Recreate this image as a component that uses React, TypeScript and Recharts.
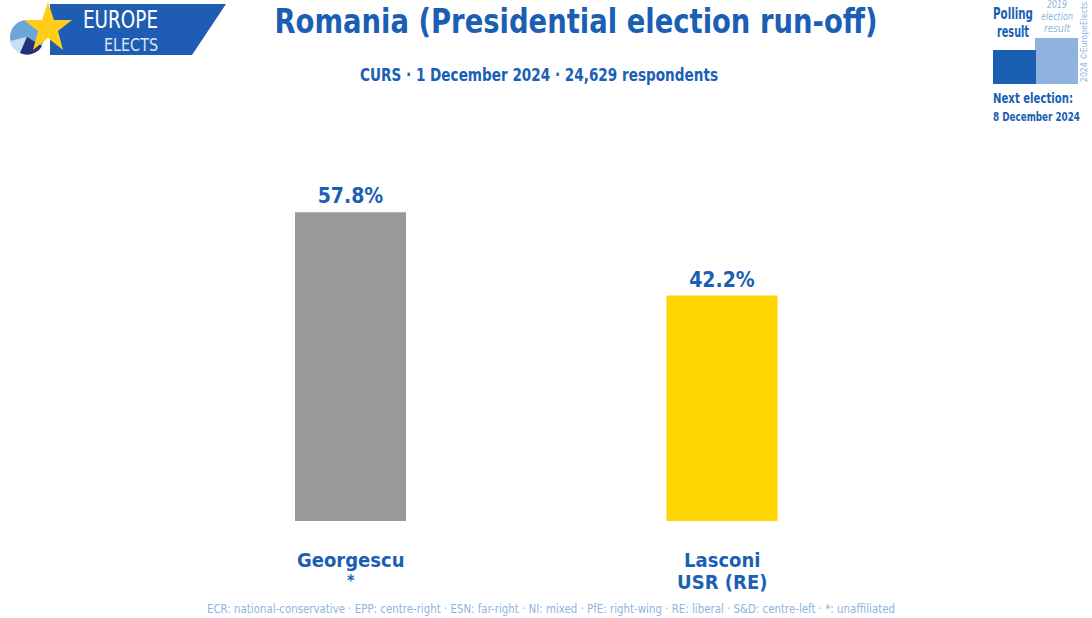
import { Bar, BarChart, LabelList, XAxis, YAxis } from "recharts";

const candidates = ["Georgescu", "Lasconi"];
const parties = ["*", "USR (RE)"];
const shares = [57.8, 42.2];
const barColors = ["#999999", "#FFD600"];

const BLUE = "#1a5fb4";
const LIGHT = "#8fb3e0";
const FONT = "'DejaVu Sans Condensed', 'Liberation Sans Narrow', sans-serif";

const data = candidates.map((name, i) => ({
  name,
  party: parties[i],
  value: shares[i],
  fill: barColors[i],
}));

function CandidateTick(props: any) {
  const { x, y, payload } = props;
  const row = data.find((d) => d.name === payload.value);
  const star = row?.party === "*";
  return (
    <g transform={`translate(${x},${y})`}>
      <text textAnchor="middle" y={38} fill={BLUE} fontFamily={FONT} fontWeight="bold" fontSize={20}>
        {payload.value}
      </text>
      <text textAnchor="middle" y={star ? 57 : 60} fill={BLUE} fontFamily={FONT} fontWeight="bold" fontSize={star ? 16 : 20}>
        {row?.party}
      </text>
    </g>
  );
}

function ValueLabel(props: any) {
  const { x, y, width, value } = props;
  return (
    <text x={x + width / 2} y={y - 9} textAnchor="middle" fill={BLUE} fontFamily={FONT} fontWeight="bold" fontSize={21}>
      {`${Number(value).toFixed(1)}%`}
    </text>
  );
}

function Overlay() {
  return (
    <svg width={1092} height={618} style={{ position: "absolute", left: 0, top: 0, pointerEvents: "none" }}>
      {/* logo */}
      <polygon points="50,4 226,4 192,55 50,55" fill="#1e5db3" />
      <circle cx={27} cy={37} r={17} fill="#6aa6d8" />
      <path d="M27,37 L10,41 A17,17 0 0 0 20,53 Z" fill="#c9def2" />
      <path d="M27,37 L20,53 A17,17 0 0 0 42,46 Z" fill="#27307a" />
      <polygon
        points="48,2 54,20 72,20 58,31 63,50 48,38 33,50 38,31 24,20 42,20"
        fill="#ffcc1a"
      />
      <text x={83} y={28} fill="#fff" fontFamily={FONT} fontSize={25} textLength={75} lengthAdjust="spacingAndGlyphs">EUROPE</text>
      <text x={104} y={51} fill="#d8e6f7" fontFamily={FONT} fontSize={18} textLength={54} lengthAdjust="spacingAndGlyphs">ELECTS</text>

      {/* title */}
      <text x={576} y={33} textAnchor="middle" fill={BLUE} fontFamily={FONT} fontWeight="bold" fontSize={34} textLength={603} lengthAdjust="spacingAndGlyphs">
        Romania (Presidential election run-off)
      </text>
      <text x={539} y={81} textAnchor="middle" fill={BLUE} fontFamily={FONT} fontWeight="bold" fontSize={18} textLength={358} lengthAdjust="spacingAndGlyphs">
        CURS · 1 December 2024 · 24,629 respondents
      </text>

      {/* legend box */}
      <text x={993} y={19} fill={BLUE} fontFamily={FONT} fontWeight="bold" fontSize={15} textLength={40} lengthAdjust="spacingAndGlyphs">Polling</text>
      <text x={997} y={37} fill={BLUE} fontFamily={FONT} fontWeight="bold" fontSize={15} textLength={32} lengthAdjust="spacingAndGlyphs">result</text>
      <text x={1057} y={8} textAnchor="middle" fill={LIGHT} fontFamily={FONT} fontStyle="italic" fontSize={10} textLength={20} lengthAdjust="spacingAndGlyphs">2019</text>
      <text x={1057} y={20} textAnchor="middle" fill={LIGHT} fontFamily={FONT} fontStyle="italic" fontSize={10} textLength={32} lengthAdjust="spacingAndGlyphs">election</text>
      <text x={1057} y={32} textAnchor="middle" fill={LIGHT} fontFamily={FONT} fontStyle="italic" fontSize={10} textLength={26} lengthAdjust="spacingAndGlyphs">result</text>
      <rect x={1035} y={38} width={43} height={46} fill="#8fb3e0" />
      <rect x={993} y={50} width={43} height={34} fill="#1b5fb3" />
      <text transform="translate(1087,82) rotate(-90)" fill={LIGHT} fontFamily={FONT} fontSize={9} textLength={80} lengthAdjust="spacingAndGlyphs">2024 ©EuropeElects</text>
      <text x={993} y={103} fill={BLUE} fontFamily={FONT} fontWeight="bold" fontSize={14} textLength={80} lengthAdjust="spacingAndGlyphs">Next election:</text>
      <text x={993} y={121} fill={BLUE} fontFamily={FONT} fontWeight="bold" fontSize={12} textLength={87} lengthAdjust="spacingAndGlyphs">8 December 2024</text>

      {/* footer */}
      <text x={551} y={613} textAnchor="middle" fill={LIGHT} fontFamily={FONT} fontSize={13} textLength={688} lengthAdjust="spacingAndGlyphs">
        ECR: national-conservative · EPP: centre-right · ESN: far-right · NI: mixed · PfE: right-wing · RE: liberal · S&D: centre-left · *: unaffiliated
      </text>
    </svg>
  );
}

export default function App() {
  return (
    <div style={{ position: "absolute", left: 0, top: 0, width: 1092, height: 618, background: "#fff" }}>
      <BarChart
        width={1092}
        height={618}
        data={data}
        margin={{ top: 147, right: 184, bottom: 0, left: 165 }}
        barCategoryGap={130}
      >
        <XAxis dataKey="name" axisLine={false} tickLine={false} tick={<CandidateTick />} interval={0} height={97} />
        <YAxis hide domain={[0, 70]} />
        <Bar dataKey="value" isAnimationActive={false} barSize={111}>
          <LabelList dataKey="value" content={<ValueLabel />} />
        </Bar>
      </BarChart>
      <Overlay />
    </div>
  );
}
